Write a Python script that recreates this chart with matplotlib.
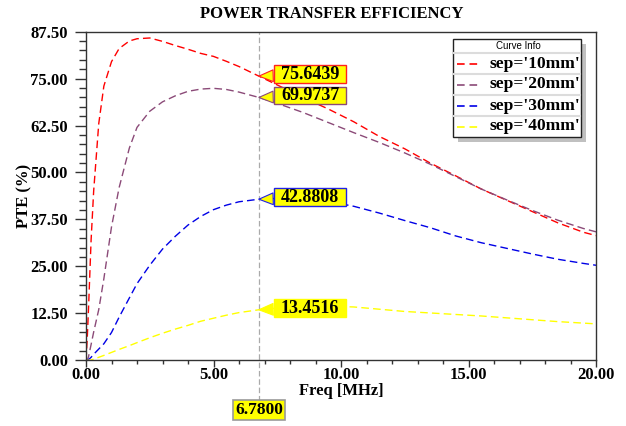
import numpy as np
import matplotlib.pyplot as plt
from matplotlib.patches import Rectangle
from matplotlib.lines import Line2D
from matplotlib.path import Path

plt.rcParams['font.family'] = ['Liberation Serif', 'DejaVu Serif']
plt.rcParams['font.weight'] = 'bold'
plt.rcParams['lines.scale_dashes'] = False

# frequency points (MHz)
freq = [0, 0.05, 0.1, 0.2, 0.3, 0.5, 0.7, 1.0, 1.3, 1.7, 2.0, 2.5, 3.0, 3.5,
        4.0, 4.5, 5.0, 5.5, 6.0, 6.78, 7.5, 8.5, 9.5, 10.5, 11.5, 12.5, 13.5,
        14.5, 15.5, 16.5, 17.5, 18.5, 19.5, 20.0]

pte_10mm = [0, 6, 14, 32, 45, 63, 73, 79.5, 83, 85, 85.6, 85.8, 84.9, 83.8,
            82.8, 81.7, 80.9, 79.6, 78.2, 75.6439, 73.3, 70.0, 66.9, 63.5,
            59.6, 56.3, 52.5, 49.1, 45.6, 42.6, 39.6, 36.6, 34.1, 33.2]
pte_20mm = [0, 0, 1, 4.2, 7.5, 13.5, 21.7, 35.5, 46, 56.5, 62, 66.3, 68.8,
            70.4, 71.6, 72.2, 72.4, 72.1, 71.4, 69.9737, 68.4, 66.0, 63.3,
            60.6, 58.0, 55.2, 52.2, 48.9, 45.6, 42.7, 39.9, 37.3, 35.1, 34.2]
pte_30mm = [0, 0, 0.2, 0.8, 1.6, 3.0, 4.4, 7.4, 11.5, 16.6, 20.4, 25.3, 29.6,
            33.0, 36.0, 38.3, 40.1, 41.3, 42.2, 42.8808, 43.1, 43.0, 42.3,
            41.0, 39.2, 37.2, 35.3, 33.1, 31.3, 29.8, 28.3, 26.9, 25.8, 25.3]
pte_40mm = [0, 0, 0, 0.1, 0.3, 0.8, 1.3, 2.1, 2.9, 3.9, 4.7, 6.0, 7.2, 8.3,
            9.3, 10.4, 11.2, 12.0, 12.7, 13.4516, 13.9, 14.3, 14.4, 14.2,
            13.6, 13.0, 12.6, 12.2, 11.8, 11.3, 10.8, 10.3, 9.9, 9.7]

series = [pte_10mm, pte_20mm, pte_30mm, pte_40mm]
labels = ["sep='10mm'", "sep='20mm'", "sep='30mm'", "sep='40mm'"]
colors = ['#ff0000', '#8b4a78', '#0000e6', '#ffff00']
edge_colors = ['#ff2020', '#8b4a78', '#2020e6', '#ffff00']

marker_freq = 6.78
marker_vals = [75.6439, 69.9737, 42.8808, 13.4516]

W, H = 626, 426


def make_box(padx, pad_bottom, pad_top):
    # rectangle with separate horizontal / bottom / top padding (fractions of font size)
    def box(x0, y0, width, height, mutation_size):
        x_lo = x0 - padx * mutation_size
        x_hi = x0 + width + padx * mutation_size
        y_lo = y0 - pad_bottom * mutation_size
        y_hi = y0 + height + pad_top * mutation_size
        return Path([(x_lo, y_lo), (x_hi, y_lo), (x_hi, y_hi), (x_lo, y_hi), (x_lo, y_lo)],
                    closed=True)
    return box


fig = plt.figure(figsize=(W / 100, H / 100), dpi=100)
ax = fig.add_axes([86 / W, 1 - 360.3 / H, 510 / W, 328.7 / H])

dash = (0, (5.5, 3.0))
for vals, c in zip(series, colors):
    ax.plot(freq, vals, color=c, lw=1.0, linestyle=dash)

ax.set_xlim(0, 20)
ax.set_ylim(0, 87.5)
ax.set_xticks(np.arange(0, 20.01, 5))
ax.set_xticks(np.arange(0, 20.01, 1), minor=True)
ax.set_yticks(np.arange(0, 87.51, 12.5))
ax.set_yticks(np.arange(0, 87.51, 2.5), minor=True)
ax.xaxis.set_major_formatter(lambda v, p: f'{v:.2f}')
ax.yaxis.set_major_formatter(lambda v, p: f'{v:.2f}')
ax.tick_params(axis='y', which='major', direction='out', length=8, width=1,
               labelsize=12, pad=5, color='#333333')
ax.tick_params(axis='y', which='minor', direction='out', length=5, width=1,
               color='#333333')
ax.tick_params(axis='x', which='major', direction='out', length=5, width=1,
               labelsize=12, pad=0, color='#333333')
ax.tick_params(axis='x', which='minor', direction='out', length=3, width=1,
               color='#333333')
for s in ax.spines.values():
    s.set_color('#333333')
    s.set_linewidth(1.0)

ax.set_xlabel('Freq [MHz]', fontsize=12, fontweight='bold')
ax.set_ylabel('PTE (%)', fontsize=12, fontweight='bold')
ax.xaxis.set_label_coords(0.5, -0.094)
ax.xaxis.label.set_va('center')
ax.yaxis.set_label_coords(-0.12, 0.5)
ax.yaxis.label.set_va('center')

fig.text(332 / W, 1 - 14 / H, 'POWER TRANSFER EFFICIENCY', ha='center',
         va='center', fontsize=12, fontweight='bold')

# marker line at 6.78 MHz
ax.axvline(marker_freq, ymin=-0.124, ymax=1, color='#aaaaaa', lw=0.9,
           linestyle=(0, (4, 2)), clip_on=False, zorder=1)

value_box = make_box(0.4, 0.0, 0.04)
for v, ec in zip(marker_vals, edge_colors):
    ax.annotate(f'{v:.4f}', xy=(marker_freq, v), xytext=(22, 1.5),
                textcoords='offset pixels', ha='left', va='center',
                fontsize=13, fontweight='bold',
                bbox=dict(boxstyle=value_box, fc='#ffff00', ec=ec, lw=1),
                arrowprops=dict(arrowstyle='wedge,tail_width=0.65', fc='#ffff00',
                                ec=ec, lw=0.8, shrinkA=0, shrinkB=0),
                zorder=5)

ax.annotate(f'{marker_freq:.4f}', xy=(marker_freq, 0),
            xycoords=('data', 'axes fraction'), xytext=(0, -50),
            textcoords='offset pixels', ha='center', va='center',
            fontsize=12.5, fontweight='bold',
            bbox=dict(boxstyle=make_box(0.14, 0.1, 0.12), fc='#ffff00',
                      ec='#999999', lw=1.2),
            annotation_clip=False)


# legend box ("Curve Info")
def fx(x):
    return x / W


def fy(y):
    return 1 - y / H


lx0, lx1, ly0, ly1 = 453, 581, 39, 136.7
fig.add_artist(Rectangle((fx(lx0 + 5), fy(ly1 + 5)), fx(lx1 - lx0), (ly1 - ly0) / H,
                         transform=fig.transFigure, fc='#c0c0c0', ec='none', zorder=8))
fig.add_artist(Rectangle((fx(lx0), fy(ly1)), fx(lx1 - lx0), (ly1 - ly0) / H,
                         transform=fig.transFigure, fc='white', ec='#222222', lw=1, zorder=9))
fig.text(fx(518), fy(46), 'Curve Info', ha='center', va='center', fontsize=7,
         fontweight='normal', family='Liberation Sans', zorder=10)
row_sep = [52.7, 74, 95, 116]
for y in row_sep:
    fig.add_artist(Line2D([fx(lx0 + 1), fx(lx1 - 1)], [fy(y), fy(y)],
                          transform=fig.transFigure, color='#dcdcdc', lw=1.5, zorder=10))
row_mid = [63.5, 84.5, 105.5, 126.5]
for y, lab, c in zip(row_mid, labels, colors):
    fig.add_artist(Line2D([fx(457), fx(478)], [fy(y), fy(y)], transform=fig.transFigure,
                          color=c, lw=1.2, linestyle=(0, (5.5, 3.5)), zorder=10))
    fig.text(fx(489), fy(y), lab, ha='left', va='center', fontsize=12.5,
             fontweight='bold', zorder=10)

fig.savefig('out.png', dpi=100)
